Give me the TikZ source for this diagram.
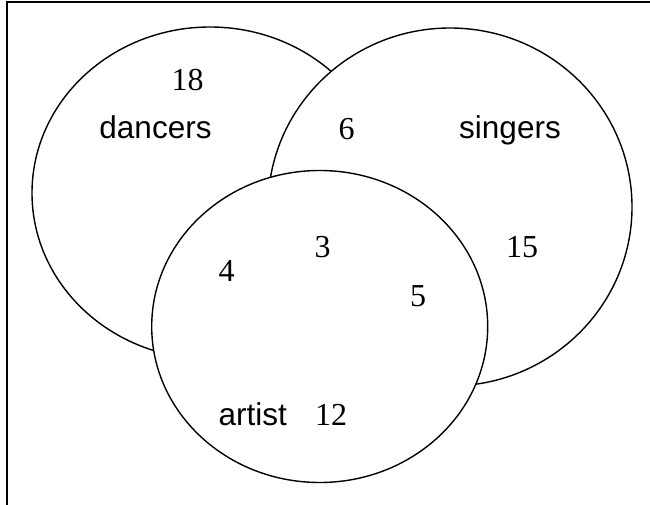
\documentclass[tikz,border=0pt]{standalone}
\usepackage{fontspec}
\setmainfont{Liberation Serif}
\setsansfont{Liberation Sans}
\usepackage{tikz}
\usetikzlibrary{positioning}
\tikzset{%
   % one set of the diagram: white filled, so later sets hide earlier lines
   setline/.style={
      draw=black,
      line width=1.4pt,
      fill=white
   },
   frameline/.style={
      draw=black,
      line width=2pt
   },
   cnt/.style={
      font=\rmfamily\fontsize{32}{38}\selectfont,
      anchor=base,
      inner sep=0pt
   },
   setname/.style={
      font=\sffamily\fontsize{31.5}{38}\selectfont,
      anchor=base,
      inner sep=0pt
   },
}

\begin{document}
\begin{tikzpicture}[x=1pt, y=-1pt]
   \useasboundingbox (0,0) rectangle (650,505);
   \draw[frameline] (7.3,506) -- (7.3,2.3) -- (652,2.3);
   % the three sets
   \draw[setline] (210,193) ellipse [x radius=178, y radius=166];
   \draw[setline] (450,207) ellipse [x radius=182, y radius=179];
   \draw[setline] (319.7,326.5) ellipse [x radius=168, y radius=156];
   % names
   \node[setname] (dancers) at (155.5,138.3) {dancers};
   \node[setname] (singers) at (510,138.3) {singers};
   \node[setname] (artist) at (252.8,425.7) {artist};
   % counts
   \node[cnt] (d) at (187.7,90.7) {18};
   \node[cnt] (ds) at (346.7,140) {6};
   \node[cnt] (s) at (522,257.7) {15};
   \node[cnt] (dsa) at (322.5,257.7) {3};
   \node[cnt] (da) at (226.5,281.7) {4};
   \node[cnt] (sa) at (418,306.7) {5};
   \node[cnt] (a) at (331,425.7) {12};
\end{tikzpicture}
\end{document}
